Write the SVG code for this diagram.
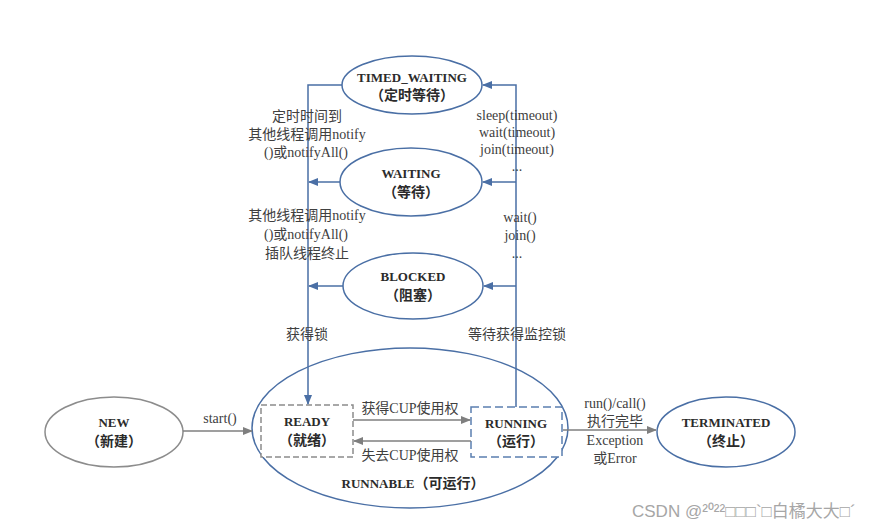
<svg xmlns="http://www.w3.org/2000/svg" width="871" height="530" viewBox="0 0 871 530">
<defs>
<marker id="ab" markerUnits="userSpaceOnUse" markerWidth="10" markerHeight="8" refX="9" refY="4" orient="auto"><path d="M0,0 L10,4 L0,8 Z" fill="#4a6fa5"/></marker>
<marker id="ag" markerUnits="userSpaceOnUse" markerWidth="10" markerHeight="8" refX="9" refY="4" orient="auto"><path d="M0,0 L10,4 L0,8 Z" fill="#7f7f7f"/></marker>
</defs>
<style>
.el{fill:#fff;stroke:#4a6fa5;stroke-width:1.5}
.eg{fill:#fff;stroke:#8c8c8c;stroke-width:1.5}
.t{font-family:"Liberation Serif","Noto Sans CJK SC",serif;font-size:13px;font-weight:bold;fill:#2b2b2b;text-anchor:middle}
.tc{font-family:"Noto Sans CJK SC",sans-serif;font-size:14px;font-weight:bold;fill:#2b2b2b;text-anchor:middle}
.l{font-family:"Liberation Serif","Noto Sans CJK SC",serif;font-size:14px;fill:#404040;text-anchor:middle}
.bl{fill:none;stroke:#4a6fa5;stroke-width:1.5}
.gl{fill:none;stroke:#7f7f7f;stroke-width:1.5}
</style>
<rect width="871" height="530" fill="#fff"/>

<g id="runnable">
<ellipse class="el" cx="410" cy="428" rx="158" ry="80"/>
<text class="t" x="413" y="488">RUNNABLE<tspan font-family="Noto Sans CJK SC,sans-serif" font-size="14">（可运行）</tspan></text>
</g>
<g id="ready">
<rect x="261" y="405" width="92" height="52" fill="#fff" stroke="#8c8c8c" stroke-width="1.5" stroke-dasharray="6,3"/>
<text class="t" x="307" y="426">READY</text>
<text class="tc" x="307" y="445">（就绪）</text>
</g>
<g id="running">
<rect x="471" y="407" width="91" height="50" fill="#fff" stroke="#5b7fb0" stroke-width="1.5" stroke-dasharray="8,4"/>
<text class="t" x="516" y="428">RUNNING</text>
<text class="tc" x="516" y="446">（运行）</text>
</g>
<g id="timed_waiting">
<ellipse class="el" cx="412" cy="85" rx="70" ry="29"/>
<text class="t" x="412" y="82">TIMED_WAITING</text>
<text class="tc" x="412" y="100">（定时等待）</text>
</g>
<g id="waiting">
<ellipse class="el" cx="411" cy="182" rx="71" ry="34"/>
<text class="t" x="411" y="178">WAITING</text>
<text class="tc" x="411" y="197">（等待）</text>
</g>
<g id="blocked">
<ellipse class="el" cx="413" cy="286" rx="70" ry="33"/>
<text class="t" x="413" y="281">BLOCKED</text>
<text class="tc" x="413" y="300">（阻塞）</text>
</g>
<g id="new">
<ellipse class="eg" cx="114" cy="432" rx="69" ry="35"/>
<text class="t" x="114" y="427">NEW</text>
<text class="tc" x="114" y="446">（新建）</text>
</g>
<g id="terminated">
<ellipse class="el" cx="726" cy="432" rx="69" ry="35"/>
<text class="t" x="726" y="427">TERMINATED</text>
<text class="tc" x="726" y="446">（终止）</text>
</g>

<g id="connectors">
<path class="bl" d="M342,85 H308 V404" marker-end="url(#ab)"/>
<path class="bl" d="M340,182 H309" marker-end="url(#ab)"/>
<path class="bl" d="M343,286 H309" marker-end="url(#ab)"/>
<path class="bl" d="M516,407 V85 H483" marker-end="url(#ab)"/>
<path class="bl" d="M516,182 H483" marker-end="url(#ab)"/>
<path class="bl" d="M516,286 H484" marker-end="url(#ab)"/>
<path class="gl" d="M183,431 H252" marker-end="url(#ag)"/>
<path class="gl" d="M353,420 H470" marker-end="url(#ag)"/>
<path class="gl" d="M471,441 H354" marker-end="url(#ag)"/>
<path class="gl" d="M563,430 H656" marker-end="url(#ag)"/>
</g>

<g id="labels">
<text class="l" x="307" y="121">定时时间到</text>
<text class="l" x="307" y="139">其他线程调用notify</text>
<text class="l" x="306" y="157">()或notifyAll()</text>
<text class="l" x="307" y="220">其他线程调用notify</text>
<text class="l" x="306" y="239">()或notifyAll()</text>
<text class="l" x="307" y="258">插队线程终止</text>
<text class="l" x="517" y="120">sleep(timeout)</text>
<text class="l" x="517" y="137">wait(timeout)</text>
<text class="l" x="517" y="154">join(timeout)</text>
<text class="l" x="517" y="171" font-size="10">...</text>
<text class="l" x="520" y="222">wait()</text>
<text class="l" x="520" y="240">join()</text>
<text class="l" x="517" y="258" font-size="10">...</text>
<text class="l" x="307" y="339">获得锁</text>
<text class="l" x="517" y="339">等待获得监控锁</text>
<text class="l" x="220" y="423" font-family="Liberation Sans,sans-serif" font-size="13">start()</text>
<text class="l" x="410" y="413">获得CUP使用权</text>
<text class="l" x="410" y="460">失去CUP使用权</text>
<text class="l" x="615" y="408">run()/call()</text>
<text class="l" x="615" y="426">执行完毕</text>
<text class="l" x="615" y="445">Exception</text>
<text class="l" x="615" y="463">或Error</text>
</g>
<text x="632" y="517" font-family="Liberation Sans,Noto Sans CJK SC,sans-serif" font-size="17" fill="#a6a6a6">CSDN @²⁰²²□□□`□白橘大大□´</text>
</svg>
